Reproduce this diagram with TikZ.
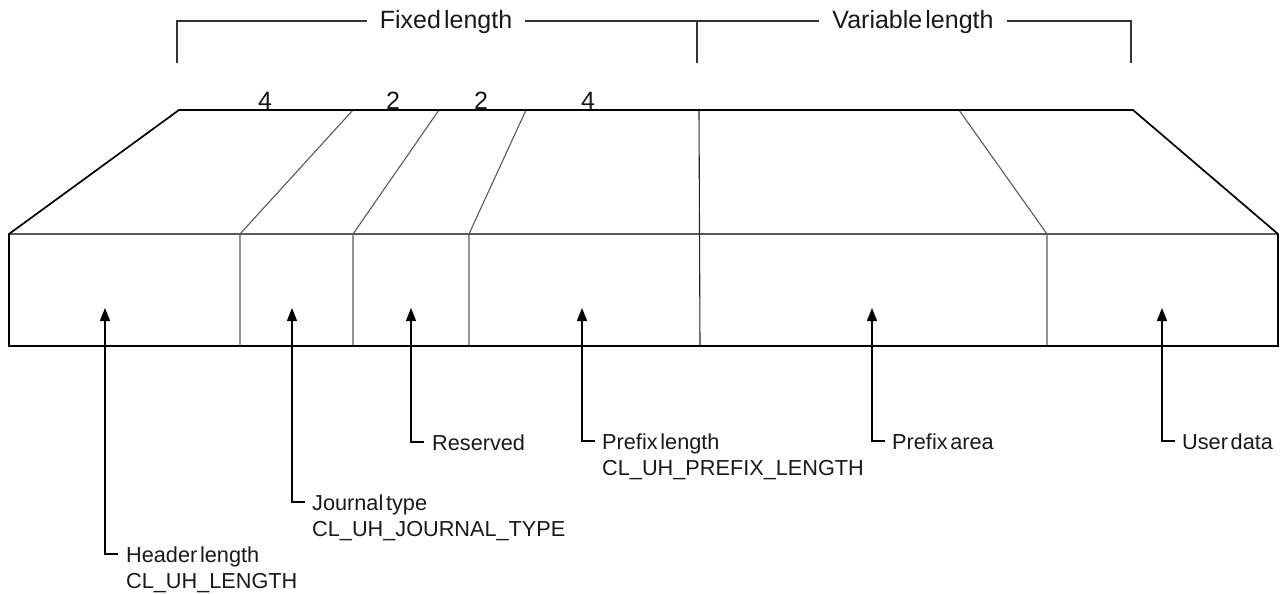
\documentclass[tikz,border=0pt]{standalone}
\usepackage{fontspec}
\setmainfont{Liberation Sans}[WordSpace=0.45]
\usetikzlibrary{arrows.meta}
\begin{document}
\begin{tikzpicture}[x=1pt,y=-1pt,
  outer/.style={line width=1.7pt, line join=miter, draw=black},
  thinline/.style={line width=1.1pt, draw=black!65},
  brk/.style={line width=1.1pt, draw=black!80},
  arr/.style={line width=1.3pt, draw=black, -{Triangle[width=10pt,length=13pt]}},
  hd/.style={font=\fontsize{25}{29}\selectfont, inner sep=0pt, text=black!90},
  lbl/.style={font=\fontsize{21.7}{25}\selectfont, inner sep=0pt, anchor=base west, text=black!90}]
\useasboundingbox (0,0) rectangle (1288,594);

% headings and brackets
\node[hd, anchor=base] (fixed) at (446,29) {Fixed length};
\node[hd, anchor=base] (var) at (913,29) {Variable length};
\coordinate (b1) at (177,63); \coordinate (t1) at (177,21);
\coordinate (b2) at (697,63); \coordinate (t2) at (697,21);
\coordinate (b3) at (1131,63); \coordinate (t3) at (1131,21);
\draw[brk] (b1) -- (t1) -- ([xshift=-13pt]fixed.west |- t1);
\draw[brk] ([xshift=13pt]fixed.east |- t1) -- (t2) -- ([xshift=-13pt]var.west |- t2);
\draw[brk] (b2) -- (t2);
\draw[brk] ([xshift=13pt]var.east |- t3) -- (t3) -- (b3);

% sizes
\node[hd, anchor=base] (n1) at (265,109) {4};
\node[hd, anchor=base] (n2) at (393,109) {2};
\node[hd, anchor=base] (n3) at (481,109) {2};
\node[hd, anchor=base] (n4) at (588,109) {4};

% record shape
\coordinate (A) at (9,234);
\coordinate (B) at (179,110);
\coordinate (C) at (1133,110);
\coordinate (D) at (1278,234);
\coordinate (E) at (1278,346);
\coordinate (F) at (9,346);
\draw[thinline] (A) -- (D);
\draw[thinline] (353,110) -- (240,234) -- (240,346);
\draw[thinline] (439,110) -- (353,234) -- (353,346);
\draw[thinline] (526,110) -- (469,234) -- (469,346);
\draw[thinline, draw=black!85] (699,110) -- (700,346);
\draw[thinline] (959,110) -- (1047,234) -- (1047,346);
\draw[outer] (A) -- (B) -- (C) -- (D) -- (E) -- (F) -- cycle;

% arrow tips
\coordinate (a1) at (105,308);
\coordinate (a2) at (292,308);
\coordinate (a3) at (411,308);
\coordinate (a4) at (582,308);
\coordinate (a5) at (872,308);
\coordinate (a6) at (1162,308);

% labels
\node[lbl] (l1) at (126,562) {Header length};
\node[lbl] (l1b) at (126,588) {CL\_UH\_LENGTH};
\node[lbl] (l2) at (312,510) {Journal type};
\node[lbl] (l2b) at (312,536) {CL\_UH\_JOURNAL\_TYPE};
\node[lbl] (l3) at (432,450) {Reserved};
\node[lbl] (l4) at (602,449) {Prefix length};
\node[lbl] (l4b) at (602,475) {CL\_UH\_PREFIX\_LENGTH};
\node[lbl] (l5) at (892,449) {Prefix area};
\node[lbl] (l6) at (1182,449) {User data};

% corners
\coordinate (c1) at (118,554);
\coordinate (c2) at (305,502);
\coordinate (c3) at (424,442);
\coordinate (c4) at (595,441);
\coordinate (c5) at (885,441);
\coordinate (c6) at (1175,441);

\draw[arr] (c1) -| (a1);
\draw[arr] (c2) -| (a2);
\draw[arr] (c3) -| (a3);
\draw[arr] (c4) -| (a4);
\draw[arr] (c5) -| (a5);
\draw[arr] (c6) -| (a6);
\end{tikzpicture}
\end{document}
